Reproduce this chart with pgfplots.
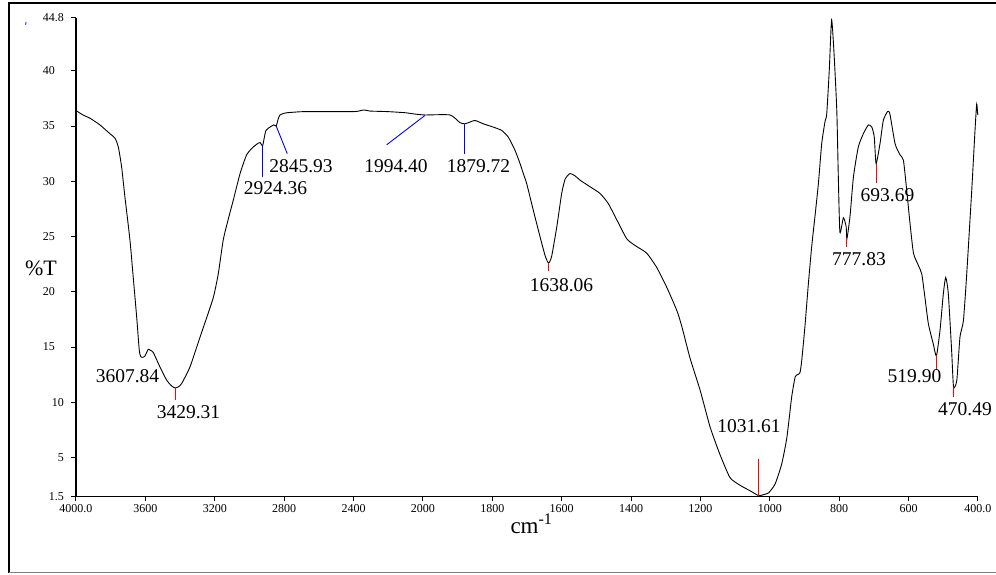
\documentclass[border=0pt]{standalone}
\usepackage{fontspec}
\setmainfont{Liberation Serif}
\usepackage{pgfplots}
\pgfplotsset{compat=1.18}
\usepackage{pgfplotstable}

% IR transmittance spectrum: wavenumber (cm^-1) and %T
\pgfplotstableread{
wn T
4000 36.4
3960 36.0
3919 35.7
3862 35.1
3804 34.3
3775 33.9
3756 33.1
3737 31.3
3718 28.6
3689 24.7
3670 21.3
3650 17.7
3635 14.7
3625 14.1
3610 14.1
3602 14.2
3590 14.6
3583 14.8
3570 14.7
3554 14.5
3516 13.2
3477 12.0
3450 11.5
3429.31 11.3
3410 11.4
3391 11.7
3343 13.2
3285 15.9
3250 17.5
3208 19.5
3180 21.6
3151 24.7
3120 26.7
3093 28.3
3054 30.7
3016 32.4
2978 33.1
2949 33.45
2938 33.5
2924.36 33.2
2915 33.9
2905 34.6
2882 34.9
2860 35.1
2845.93 35.0
2835 35.6
2824 36.0
2800 36.15
2785 36.2
2690 36.3
2500 36.3
2401 36.3
2370 36.35
2344 36.45
2320 36.4
2305 36.35
2200 36.3
2100 36.2
2055 36.1
1994.4 36.0
1922 36.0
1893 35.3
1879.72 35.2
1869 35.3
1850 35.5
1826 35.2
1797 34.9
1773 34.6
1754 34.0
1734.5 32.8
1720 31.6
1710.6 30.7
1701 29.8
1682 27.4
1662.5 25.0
1648 23.3
1638.06 22.6
1629 23.2
1614 25.9
1600 28.9
1590 30.2
1576 30.7
1562 30.5
1547 30.1
1518 29.5
1489.5 28.9
1466 28.0
1441 26.5
1412.5 24.8
1389 24.2
1355 23.5
1326 22.2
1297 20.4
1268 18.3
1254 16.9
1230 14.0
1201 11.1
1172 7.75
1144 5.3
1115 3.2
1086 2.5
1057 2.0
1031.61 1.55
1019 1.65
1004 1.8
985 2.6
966 4.4
951 6.8
937 10.5
927 12.3
920 12.5
913 12.7
908 13.8
899 16.8
889 20.7
879 24.2
870 26.8
860 29.8
850.5 33.4
841 35.4
836 36.1
828.6 40.1
822 44.6
815 41.6
807 36.4
802.6 30.4
798 25.4
788 26.7
780 25.9
777.83 24.8
769 26.8
759 30.4
745 33.1
730.5 34.3
716 35.1
706 34.9
699 34.0
693.69 31.6
682 33.5
673 35.5
661 36.3
654 36.1
639 33.4
625 32.4
615 31.9
605.5 29.2
596 26.2
586 23.5
572 22.4
562 21.6
553 19.5
543 17.1
529 15.3
519.9 14.2
509.5 16.5
500 19.8
493 21.3
485.5 19.8
476 14.7
470.49 11.4
461 12.0
452 15.9
442 17.4
432.5 21.6
418 29.2
408.6 34.6
403.7 37.0
401 36.1
400 36.0
}\spectrum

\newcommand{\tk}{\fontsize{12}{13}\selectfont}
\newcommand{\pk}{\fontsize{19.5}{21}\selectfont}

\begin{document}
\begin{tikzpicture}[x=1pt,y=1pt]
\useasboundingbox (-76,-78.7) rectangle (920,496.3);
% page frame
\draw[line width=2pt] (-67,-76.7) -- (-67,493.3) -- (921,493.3);
\draw[gray, line width=1.2pt] (-67,-76.3) -- (921,-76.3);
\draw[blue, line width=0.8pt] (-50,474.5) -- (-50.3,471.5);
\begin{axis}[
  at={(0,0)}, anchor=south west,
  scale only axis, width=902pt, height=478.6pt,
  x dir=reverse,
  x coord trafo/.code={\pgfmathparse{min(#1,2000)+(max(#1,2000)-2000)/2}},
  x coord inv trafo/.code={\pgfmathparse{min(#1,2000)+(max(#1,2000)-2000)*2}},
  xmin=400, xmax=4000, ymin=1.5, ymax=44.8,
  axis x line*=bottom, axis y line*=left,
  axis line style={line width=1.2pt, -},
  tick align=outside, major tick length=5pt,
  tick style={black, line width=1pt},
  xtick={4000,3600,3200,2800,2400,2000,1800,1600,1400,1200,1000,800,600,400},
  xticklabels={4000.0,3600,3200,2800,2400,2000,1800,1600,1400,1200,1000,800,600,400.0},
  ytick={15,20,25,30,35,40},
  yticklabels={15,20,25,30,35,40},
  extra y ticks={1.5,5,10,44.8},
  extra y tick labels={1.5,5,10,44.8},
  extra y tick style={yticklabel style={xshift=9pt}},
  xticklabel style={font=\tk, anchor=north, inner sep=0pt, yshift=-3.2pt},
  yticklabel style={font=\tk, anchor=east, inner sep=0pt, xshift=-16pt},
  xlabel={cm\textsuperscript{-1}},
  xlabel style={font=\fontsize{23}{24}\selectfont, at={(axis description cs:0.505,-0.0785)}, anchor=base, inner sep=0pt},
  ylabel={\%T},
  ylabel style={font=\fontsize{22}{24}\selectfont, at={(axis description cs:-0.0388,0.477)}, anchor=center, rotate=-90, inner sep=0pt},
  clip=false,
]
\addplot[black, line width=0.9pt, smooth, tension=0.35] table[x=wn, y=T] {\spectrum};

% peak markers
\addplot[red, line width=0.9pt] coordinates {(3429.31,11.3) (3429.31,10.2)};
\addplot[red, line width=0.9pt] coordinates {(1638.06,22.6) (1638.06,21.9)};
\addplot[red, line width=0.9pt] coordinates {(1031.61,4.9) (1031.61,1.56)};
\addplot[red, line width=0.9pt] coordinates {(777.83,24.8) (777.83,24.05)};
\addplot[red, line width=0.9pt] coordinates {(693.69,31.6) (693.69,29.8)};
\addplot[red, line width=0.9pt] coordinates {(519.9,14.25) (519.9,12.9)};
\addplot[red, line width=0.9pt] coordinates {(470.49,11.4) (470.49,10.5)};
\addplot[blue, line width=0.9pt] coordinates {(2924.36,33.25) (2924.36,30.4)};
\addplot[blue, line width=0.9pt] coordinates {(2845.93,35.0) (2782,32.5)};
\addplot[blue, line width=0.9pt] coordinates {(1994.4,35.95) (2209,33.3)};
\addplot[blue, line width=0.9pt] coordinates {(1879.72,35.2) (1879.72,32.45)};

% peak labels
\begin{scope}[every node/.style={font=\pk, inner sep=0pt, anchor=center}]
\node at (axis cs:3703,12.33) {3607.84};
\node at (axis cs:3351.4,9.12) {3429.31};
\node at (axis cs:2849.9,29.34) {2924.36};
\node at (axis cs:2703,31.33) {2845.93};
\node at (axis cs:2155,31.33) {1994.40};
\node at (axis cs:1839.7,31.33) {1879.72};
\node at (axis cs:1600.5,20.61) {1638.06};
\node at (axis cs:1060,7.86) {1031.61};
\node at (axis cs:743,22.96) {777.83};
\node at (axis cs:660.8,28.76) {693.69};
\node at (axis cs:583,12.38) {519.90};
\node at (axis cs:437.4,9.39) {470.49};
\end{scope}
\end{axis}
\end{tikzpicture}
\end{document}
